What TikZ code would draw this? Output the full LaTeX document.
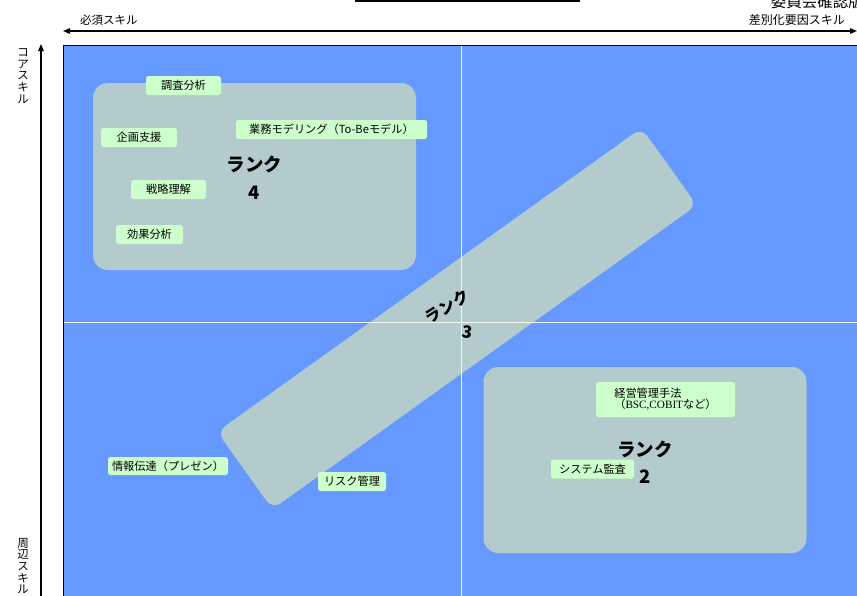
\documentclass[tikz,border=0pt]{standalone}
\usepackage{fontspec}
\setmainfont{Noto Sans CJK JP}
\newfontfamily\serifl{Liberation Serif}
\usetikzlibrary{arrows.meta}
\definecolor{bgblue}{HTML}{6699FF}
\definecolor{rankgray}{HTML}{B3CBCC}
\definecolor{lgreen}{HTML}{CCFFCC}
\definecolor{crossline}{HTML}{F6F8EC}
\tikzset{
  lbl/.style={fill=lgreen, rounded corners=2.5pt, inner sep=0pt, minimum height=19pt,
    font=\fontsize{11.2}{12.5}\selectfont, text=black},
  rankbox/.style={fill=rankgray, rounded corners=15pt, inner sep=0pt},
  ranktxt/.style={font=\fontsize{18.5}{20}\selectfont\bfseries, text=black, inner sep=0pt},
  axistxt/.style={font=\fontsize{11.5}{12}\selectfont, inner sep=0pt},
  vtxt/.style={font=\fontsize{11.5}{11.6}\selectfont, align=center, inner sep=0pt},
  axisline/.style={line width=1.2pt, draw=black},
}
\begin{document}
\begin{tikzpicture}[x=1pt,y=-1pt]
\useasboundingbox (0,0) rectangle (857,595);

% title fragments
\fill (355,0) rectangle (580,2.2);
\node[anchor=base east, inner sep=0pt, font=\fontsize{15.5}{16}\selectfont] (title) at (864,7) {委員会確認版};

% field
\coordinate (fnw) at (63,45);
\coordinate (fse) at (880,620);
\path[fill=bgblue, draw=black, line width=0.8pt] (fnw) rectangle (fse);

% axes
\coordinate (hl) at (63,31);
\coordinate (hr) at (857,31);
\draw[axisline, {Triangle[length=7pt,width=5.5pt]}-{Triangle[length=7pt,width=5.5pt]}] (hl) -- (hr);
\coordinate (vb) at (41,610);
\coordinate (vt) at (41,44);
\draw[axisline, -{Triangle[length=7pt,width=5.5pt]}] (vb) -- (vt);

\node[axistxt, anchor=west] (must) at (80,20) {必須スキル};
\node[axistxt, font=\fontsize{12}{13}\selectfont, anchor=east] (diff) at (845,20) {差別化要因スキル};
\node[vtxt] (core) at (23,76) {コ\\ア\\ス\\キ\\ル};
\node[vtxt] (peri) at (23,566) {周\\辺\\ス\\キ\\ル};

% rank boxes
\node[rankbox, minimum width=323pt, minimum height=187pt] (r4) at (254.5,176.5) {};
\node[rankbox, minimum width=323pt, minimum height=186pt] (r2) at (645,460) {};
\node[fill=rankgray, rounded corners=10pt, inner sep=0pt, minimum width=522pt, minimum height=95pt, rotate=35.6] (r3) at (457,318.5) {};

% cross lines
\coordinate (ct) at (461,46);
\coordinate (cb) at (461,600);
\coordinate (cl) at (64,322);
\coordinate (cr) at (870,322);
\draw[crossline, line width=0.9pt] (ct) -- (cb);
\draw[crossline, line width=0.9pt] (cl) -- (cr);

% rank labels
\node[ranktxt] (r4a) at (254.5,164) {ランク};
\node[ranktxt] (r4b) at (254.5,192.5) {4};
\node[ranktxt] (r2a) at (645,449) {ランク};
\node[ranktxt] (r2b) at (645,476.5) {2};
\node[font=\fontsize{16}{18}\selectfont\bfseries, rotate=32, inner sep=0pt] (r3a) at (447,307) {ランク};
\node[font=\fontsize{17}{18}\selectfont\bfseries, rotate=-8, inner sep=0pt] (r3b) at (467,332) {3};

% skill labels
\node[lbl, minimum width=75pt] (s1) at (183.5,85.5) {調査分析};
\node[lbl, minimum width=191pt] (s2) at (331.5,129.5) {業務モデリング（To-Beモデル）};
\node[lbl, minimum width=76pt] (s3) at (139,137.5) {企画支援};
\node[lbl, minimum width=75pt] (s4) at (168.5,189.5) {戦略理解};
\node[lbl, minimum width=67pt] (s5) at (149.5,234.5) {効果分析};
\node[lbl, minimum width=120pt, minimum height=18pt] (s6) at (168,466) {情報伝達（プレゼン）};
\node[lbl, minimum width=68pt] (s7) at (352,481.5) {リスク管理};
\node[lbl, minimum width=139pt, minimum height=35pt, align=left] (s8) at (665.5,399.5) {経営管理手法\\[-1.5pt]（{\serifl BSC,COBIT}など）};
\node[lbl, minimum width=83pt] (s9) at (592.5,469) {システム監査};
\end{tikzpicture}
\end{document}
